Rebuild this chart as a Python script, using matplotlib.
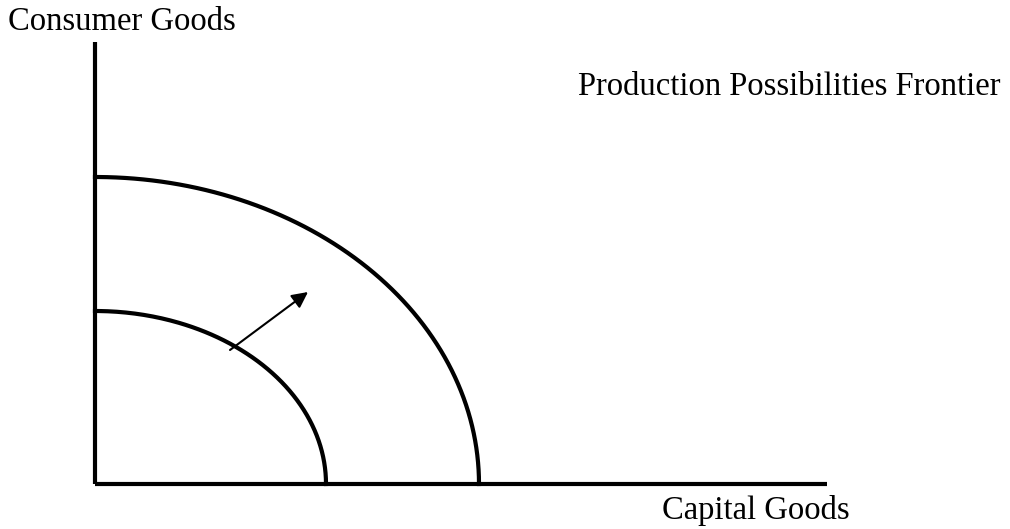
import numpy as np
import matplotlib
matplotlib.use('Agg')
import matplotlib.pyplot as plt

# frontier intercepts (capital goods, consumer goods), in pixel-like units from origin
inner_ppf = (231, 173)
outer_ppf = (384, 307)

# axis lengths
x_axis_len = 732
y_axis_len = 442

# shift arrow (start, end)
arrow_start = (135, 134)
arrow_end = (213, 192)

x_label = 'Capital Goods'
y_label = 'Consumer Goods'
title = 'Production Possibilities Frontier'

plt.rcParams['font.family'] = ['Liberation Serif', 'DejaVu Serif']

fig = plt.figure(figsize=(10.1, 5.29), dpi=100)
ax = fig.add_axes([0, 0, 1, 1])
ax.set_xlim(-95, 915)
ax.set_ylim(-45, 484)
ax.axis('off')

# axes lines
ax.plot([0, 0], [0, y_axis_len], color='black', lw=3, solid_capstyle='butt')
ax.plot([0, x_axis_len], [0, 0], color='black', lw=3, solid_capstyle='butt')

# frontiers as quarter ellipses
t = np.linspace(0, np.pi / 2, 200)
for a, b in [inner_ppf, outer_ppf]:
    ax.plot(a * np.cos(t), b * np.sin(t), color='black', lw=3)

# shift arrow
ax.annotate('', xy=arrow_end, xytext=arrow_start,
            arrowprops=dict(arrowstyle='-|>', color='black', lw=1.5,
                            mutation_scale=24, shrinkA=0, shrinkB=0))

ax.text(-87, 454, y_label, fontsize=23.5, va='baseline', ha='left')
ax.text(483, 389, title, fontsize=23.5, va='baseline', ha='left')
ax.text(567, -35, x_label, fontsize=23.5, va='baseline', ha='left')

fig.savefig('out.png', dpi=100)
